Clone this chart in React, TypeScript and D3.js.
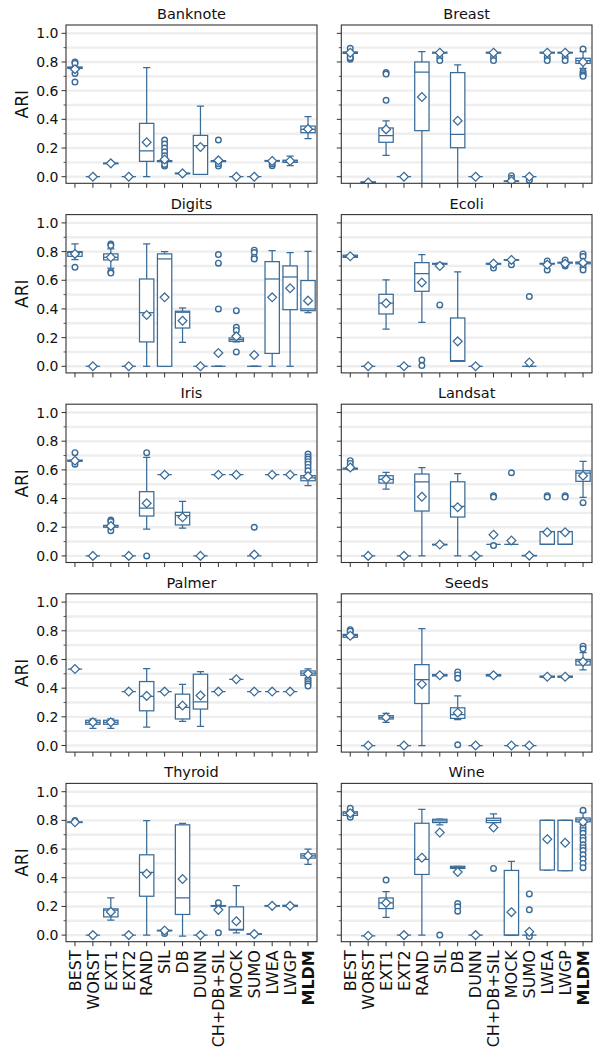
import React from "react";
import * as d3 from "d3";

type Stat = [number, number, number, number, number, number]; // lo, q1, med, q3, hi, mean

const methods = ["BEST", "WORST", "EXT1", "EXT2", "RAND", "SIL", "DB", "DUNN", "CH+DB+SIL", "MOCK", "SUMO", "LWEA", "LWGP", "MLDM"];
const yTicks = [0, 0.2, 0.4, 0.6, 0.8, 1.0];
const yMinor = [0.1, 0.3, 0.5, 0.7, 0.9];
const gridVals = [0, 0.1, 0.2, 0.3, 0.4, 0.5, 0.6, 0.7, 0.8, 0.9, 1.0];

const z: Stat = [0, 0, 0, 0, 0, 0];
const flat = (v: number): Stat => [v, v, v, v, v, v];

const banknote: Stat[] = [
  [0.755, 0.755, 0.76, 0.765, 0.765, 0.75], z, [0.088, 0.09, 0.093, 0.095, 0.097, 0.093], z,
  [0, 0.107, 0.181, 0.372, 0.76, 0.24], [0.1, 0.105, 0.109, 0.112, 0.115, 0.12], [0.018, 0.02, 0.023, 0.025, 0.027, 0.023],
  [0.016, 0.016, 0.216, 0.288, 0.493, 0.207], [0.1, 0.105, 0.109, 0.112, 0.115, 0.114], z, z,
  [0.105, 0.108, 0.11, 0.113, 0.115, 0.11], [0.077, 0.1, 0.11, 0.115, 0.144, 0.11], [0.265, 0.307, 0.33, 0.353, 0.419, 0.333],
];
const banknoteOut: number[][] = [[0.8, 0.79, 0.72, 0.66], [], [], [], [], [0.256, 0.228, 0.2, 0.174, 0.146, 0.074, 0.085], [], [], [0.256, 0.074, 0.09], [], [], [0.077, 0.09], [], []];

const breast: Stat[] = [
  [0.855, 0.86, 0.865, 0.87, 0.875, 0.865], [-0.046, -0.044, -0.04, -0.036, -0.034, -0.04], [0.149, 0.24, 0.286, 0.34, 0.39, 0.33], z,
  [-0.2, 0.321, 0.73, 0.8, 0.872, 0.556], [0.86, 0.862, 0.865, 0.868, 0.87, 0.865], [-0.2, 0.202, 0.295, 0.726, 0.78, 0.39], z,
  [0.86, 0.862, 0.865, 0.868, 0.87, 0.865], [-0.035, -0.033, -0.03, -0.03, -0.028, -0.03], z,
  [0.86, 0.862, 0.865, 0.868, 0.87, 0.865], [0.86, 0.862, 0.865, 0.868, 0.87, 0.865], [0.756, 0.79, 0.81, 0.826, 0.872, 0.8],
];
const breastOut: number[][] = [[0.895, 0.837, 0.819, 0.83], [], [0.533, 0.726, 0.716], [], [], [0.833, 0.81], [], [], [0.833, 0.81], [0.007, -0.01], [-0.02, -0.025], [0.833, 0.81], [0.833, 0.81], [0.733, 0.72, 0.71, 0.7, 0.89]];

const digits: Stat[] = [
  [0.744, 0.767, 0.795, 0.8, 0.853, 0.784], z, [0.684, 0.742, 0.76, 0.784, 0.819, 0.76], z,
  [0, 0.17, 0.374, 0.609, 0.853, 0.358], [0, 0, 0.749, 0.784, 0.8, 0.481], [0.167, 0.267, 0.377, 0.384, 0.407, 0.318], z,
  [0, 0, 0, 0, 0, 0.093], [0.17, 0.174, 0.186, 0.198, 0.2, 0.209], [0, 0, 0, 0, 0, 0.079],
  [0, 0.09, 0.609, 0.73, 0.807, 0.481], [0, 0.395, 0.623, 0.7, 0.793, 0.544], [0.374, 0.388, 0.4, 0.598, 0.802, 0.458],
];
const digitsOut: number[][] = [[0.69], [], [0.853, 0.842, 0.66, 0.65], [], [], [], [], [], [0.779, 0.719, 0.4], [0.388, 0.272, 0.25, 0.1], [0.81, 0.793, 0.76, 0.749], [], [], []];

const ecoli: Stat[] = [
  [0.76, 0.76, 0.767, 0.775, 0.779, 0.767], z, [0.26, 0.365, 0.44, 0.502, 0.602, 0.44], z,
  [0.307, 0.523, 0.647, 0.723, 0.779, 0.584], [0.71, 0.712, 0.716, 0.718, 0.72, 0.7], [0.035, 0.035, 0.04, 0.337, 0.658, 0.174], z,
  [0.71, 0.712, 0.716, 0.718, 0.72, 0.716], [0.738, 0.74, 0.742, 0.744, 0.746, 0.742], [0, 0, 0, 0, 0, 0.026],
  [0.71, 0.713, 0.716, 0.718, 0.72, 0.709], [0.716, 0.72, 0.723, 0.726, 0.73, 0.716], [0.71, 0.715, 0.723, 0.727, 0.73, 0.723],
];
const ecoliOut: number[][] = [[], [], [], [], [0.044, 0.005], [0.428], [], [], [0.685], [0.709], [0.486], [0.672, 0.735], [0.742, 0.7], [0.784, 0.765, 0.69, 0.672]];

const iris: Stat[] = [
  [0.655, 0.66, 0.664, 0.668, 0.672, 0.664], z, [0.195, 0.2, 0.209, 0.213, 0.22, 0.209], z,
  [0.186, 0.278, 0.334, 0.448, 0.687, 0.367], flat(0.566), [0.193, 0.216, 0.281, 0.304, 0.38, 0.269], z,
  flat(0.566), flat(0.566), [0, 0, 0, 0, 0, 0.009],
  flat(0.566), flat(0.566), [0.49, 0.524, 0.545, 0.56, 0.585, 0.555],
];
const irisOut: number[][] = [[0.72, 0.64], [], [0.25, 0.24, 0.176], [], [0.72, 0], [], [], [], [], [], [0.2], [], [], [0.71, 0.69, 0.675, 0.657, 0.64, 0.617, 0.594]];

const landsat: Stat[] = [
  [0.6, 0.605, 0.608, 0.612, 0.615, 0.617], z, [0.466, 0.508, 0.534, 0.559, 0.582, 0.534], z,
  [0, 0.313, 0.517, 0.571, 0.615, 0.413], [0.075, 0.077, 0.079, 0.081, 0.083, 0.079], [0, 0.271, 0.346, 0.517, 0.573, 0.339], z,
  [0.081, 0.081, 0.081, 0.081, 0.081, 0.148], [0.081, 0.081, 0.081, 0.081, 0.081, 0.107], [0, 0.001, 0.002, 0.003, 0.004, 0.002],
  [0.081, 0.081, 0.081, 0.17, 0.17, 0.165], [0.081, 0.081, 0.081, 0.17, 0.17, 0.165], [0.408, 0.52, 0.578, 0.594, 0.659, 0.559],
];
const landsatOut: number[][] = [[0.664, 0.645], [], [], [], [], [], [], [], [0.42, 0.41, 0.072], [0.58], [], [0.42, 0.41], [0.42, 0.41], [0.371]];

const palmer: Stat[] = [
  flat(0.533), [0.12, 0.148, 0.162, 0.176, 0.185, 0.162], [0.12, 0.148, 0.162, 0.176, 0.185, 0.162], flat(0.376),
  [0.129, 0.242, 0.342, 0.446, 0.536, 0.346], flat(0.376), [0.169, 0.185, 0.266, 0.358, 0.427, 0.279], [0.134, 0.254, 0.305, 0.497, 0.515, 0.349],
  flat(0.376), flat(0.462), flat(0.376),
  flat(0.376), flat(0.376), [0.47, 0.49, 0.505, 0.52, 0.535, 0.5],
];
const palmerOut: number[][] = [[], [], [], [], [], [], [], [], [], [], [], [], [], [0.46, 0.445, 0.43, 0.415]];

const seeds: Stat[] = [
  [0.75, 0.755, 0.766, 0.775, 0.785, 0.766], z, [0.162, 0.185, 0.196, 0.208, 0.224, 0.196], z,
  [0, 0.293, 0.46, 0.564, 0.815, 0.427], [0.48, 0.485, 0.49, 0.495, 0.5, 0.49], [0.18, 0.189, 0.215, 0.263, 0.346, 0.229], z,
  [0.48, 0.485, 0.49, 0.495, 0.5, 0.49], z, z,
  [0.472, 0.476, 0.48, 0.484, 0.488, 0.48], [0.472, 0.476, 0.48, 0.484, 0.488, 0.48], [0.527, 0.561, 0.589, 0.6, 0.647, 0.584],
];
const seedsOut: number[][] = [[0.808, 0.798], [], [], [], [], [], [0.513, 0.492, 0.469, 0.005], [], [], [], [], [], [], [0.693, 0.674]];

const thyroid: Stat[] = [
  [0.785, 0.785, 0.787, 0.79, 0.79, 0.787], z, [0.104, 0.127, 0.174, 0.183, 0.259, 0.162], z,
  [0, 0.271, 0.4375, 0.56, 0.799, 0.428], [0.028, 0.03, 0.032, 0.034, 0.036, 0.032], [-0.007, 0.144, 0.259, 0.769, 0.78, 0.391], z,
  [0.2, 0.202, 0.204, 0.206, 0.208, 0.176], [0.016, 0.035, 0.04, 0.197, 0.345, 0.097], [0.004, 0.006, 0.007, 0.009, 0.01, 0.007],
  [0.2, 0.202, 0.204, 0.206, 0.208, 0.204], [0.198, 0.2, 0.204, 0.208, 0.212, 0.204], [0.493, 0.537, 0.553, 0.567, 0.6, 0.553],
];
const thyroidOut: number[][] = [[0.8], [], [], [], [], [0.012], [], [], [0.225, 0.016], [], [], [], [], []];

const wine: Stat[] = [
  [0.83, 0.835, 0.85, 0.86, 0.87, 0.85], flat(-0.005), [0.123, 0.185, 0.225, 0.259, 0.303, 0.225], z,
  [0, 0.423, 0.528, 0.78, 0.877, 0.54], [0.769, 0.785, 0.796, 0.808, 0.808, 0.715], [0.465, 0.465, 0.47, 0.48, 0.48, 0.44], z,
  [0.785, 0.785, 0.8, 0.815, 0.845, 0.75], [0, 0, 0, 0.451, 0.514, 0.16], [0, 0, 0, 0, 0, 0.023],
  [0.454, 0.454, 0.8, 0.8, 0.8, 0.669], [0.449, 0.449, 0.8, 0.8, 0.8, 0.644], [0.77, 0.79, 0.803, 0.817, 0.854, 0.79],
];
const wineOut: number[][] = [[0.884, 0.822], [], [0.384], [], [], [0], [0.22, 0.197, 0.167], [], [0.465], [], [0.287, 0.176, 0.016, -0.01], [], [], [0.87, 0.75, 0.73, 0.71, 0.68, 0.66, 0.63, 0.61, 0.59, 0.56, 0.53, 0.5, 0.47]];

const panels = [
  { title: "Banknote", stats: banknote, out: banknoteOut },
  { title: "Breast", stats: breast, out: breastOut },
  { title: "Digits", stats: digits, out: digitsOut },
  { title: "Ecoli", stats: ecoli, out: ecoliOut },
  { title: "Iris", stats: iris, out: irisOut },
  { title: "Landsat", stats: landsat, out: landsatOut },
  { title: "Palmer", stats: palmer, out: palmerOut },
  { title: "Seeds", stats: seeds, out: seedsOut },
  { title: "Thyroid", stats: thyroid, out: thyroidOut },
  { title: "Wine", stats: wine, out: wineOut },
];

const W = 596;
const H = 1047;
const colX: [number, number][] = [[66, 317], [341.3, 592]];
const rowTop0 = 25;
const rowStep = 189.6;
const panelH = 158.3;
const C = "#3a6c99";
const FONT = "'DejaVu Sans', sans-serif";

function Panel({ idx }: { idx: number }) {
  const p = panels[idx];
  const col = idx % 2;
  const row = Math.floor(idx / 2);
  const [x0, x1] = colX[col];
  const top = rowTop0 + row * rowStep;
  const bottom = top + panelH;
  const x = d3.scaleBand<string>().domain(methods).range([x0, x1]).paddingInner(0).paddingOuter(0);
  const y = d3.scaleLinear().domain([-0.046, 1.058]).range([bottom, top]);
  const bw = x.bandwidth() * 0.8;
  const cw = bw / 2;
  const clipId = `clip${idx}`;
  const isBottom = row === 4;
  const diamond = (cx: number, cy: number, r: number) => `M${cx},${cy - r}L${cx + r},${cy}L${cx},${cy + r}L${cx - r},${cy}Z`;
  return (
    <g>
      <defs>
        <clipPath id={clipId}>
          <rect x={x0} y={top} width={x1 - x0} height={panelH} />
        </clipPath>
      </defs>
      <g clipPath={`url(#${clipId})`}>
        {gridVals.map((v) => (
          <line key={v} x1={x0} x2={x1} y1={y(v)} y2={y(v)} stroke="#eeeeee" strokeWidth={2.4} />
        ))}
        {methods.map((m, i) => {
          const [lo, q1, med, q3, hi, mean] = p.stats[i];
          const cx = x(m)! + x.bandwidth() / 2;
          return (
            <g key={m} stroke={C} strokeWidth={1.25} fill="none">
              <line x1={cx} x2={cx} y1={y(q1)} y2={y(lo)} />
              <line x1={cx} x2={cx} y1={y(q3)} y2={y(hi)} />
              <line x1={cx - cw / 2} x2={cx + cw / 2} y1={y(lo)} y2={y(lo)} />
              <line x1={cx - cw / 2} x2={cx + cw / 2} y1={y(hi)} y2={y(hi)} />
              <rect x={cx - bw / 2} y={y(q3)} width={bw} height={Math.max(0, y(q1) - y(q3))} fill="white" />
              <line x1={cx - bw / 2} x2={cx + bw / 2} y1={y(med)} y2={y(med)} />
              {p.out[i].map((o, k) => (
                <circle key={k} cx={cx} cy={y(o)} r={2.8} fill="white" strokeWidth={1.4} />
              ))}
              <path d={diamond(cx, y(mean), 4.4)} fill="white" />
            </g>
          );
        })}
      </g>
      <rect x={x0} y={top} width={x1 - x0} height={panelH} fill="none" stroke="#333" strokeWidth={1.1} />
      {yTicks.map((v) => (
        <g key={v}>
          <line x1={x0 - 4.5} x2={x0} y1={y(v)} y2={y(v)} stroke="#333" strokeWidth={1} />
          {col === 0 && (
            <text x={x0 - 7.5} y={y(v)} dy="0.36em" textAnchor="end" fontSize={14} fontFamily={FONT} fill="#111">
              {v.toFixed(1)}
            </text>
          )}
        </g>
      ))}
      {yMinor.map((v) => (
        <line key={v} x1={x0 - 2.5} x2={x0} y1={y(v)} y2={y(v)} stroke="#333" strokeWidth={0.8} />
      ))}
      {methods.map((m) => {
        const cx = x(m)! + x.bandwidth() / 2;
        return (
          <g key={m}>
            <line x1={cx} x2={cx} y1={bottom} y2={bottom + 4.5} stroke="#333" strokeWidth={1} />
            {isBottom && (
              <text
                transform={`translate(${cx},${bottom + 8.5}) rotate(-90)`}
                dy="0.36em"
                textAnchor="end"
                fontSize={16}
                fontFamily={FONT}
                fontWeight={m === "MLDM" ? "bold" : "normal"}
                fill="#111"
              >
                {m}
              </text>
            )}
          </g>
        );
      })}
      <text x={(x0 + x1) / 2} y={top - 6} textAnchor="middle" fontSize={14.5} fontFamily={FONT} fill="#111">
        {p.title}
      </text>
      {col === 0 && (
        <text transform={`translate(22,${(top + bottom) / 2}) rotate(-90)`} dy="0.36em" textAnchor="middle" fontSize={17} fontFamily={FONT} fill="#111">
          ARI
        </text>
      )}
    </g>
  );
}

export default function App() {
  return (
    <div style={{ position: "absolute", left: 0, top: 0 }}>
      <svg width={W} height={H} viewBox={`0 0 ${W} ${H}`} style={{ display: "block", background: "white" }}>
        {panels.map((_, i) => (
          <Panel key={i} idx={i} />
        ))}
      </svg>
    </div>
  );
}
